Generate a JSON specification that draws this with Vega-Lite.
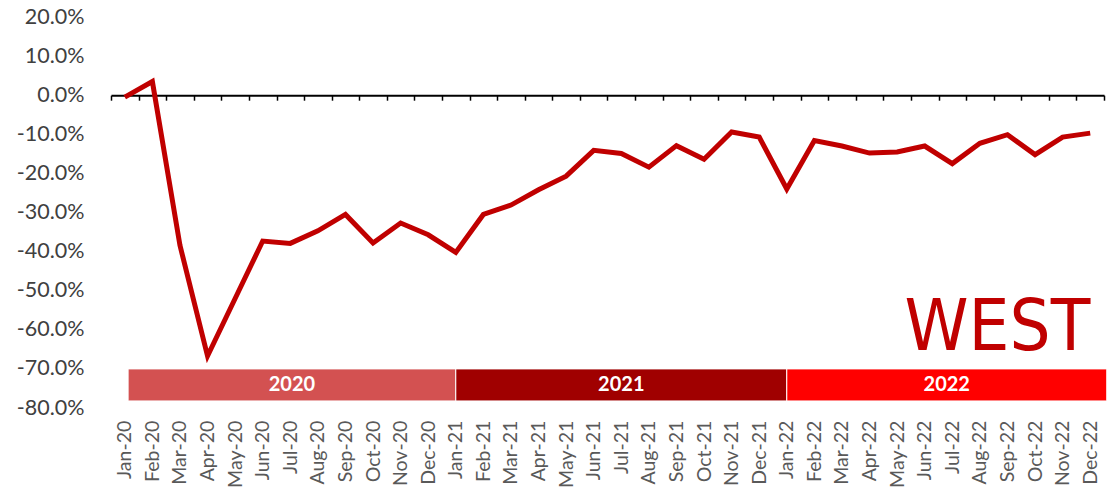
{
  "$schema": "https://vega.github.io/schema/vega-lite/v6.json",
  "width": 993,
  "height": 391,
  "autosize": "none",
  "padding": {"left": 111, "top": 17, "right": 3, "bottom": 80},
  "background": "white",
  "config": {
    "view": {"stroke": null},
    "font": "Lato",
    "axisY": {
      "grid": false, "domain": false, "ticks": false,
      "labelFontSize": 21.5, "labelColor": "#404040", "labelPadding": 27,
      "labelFont": "Lato", "title": null, "labelOverlap": false
    }
  },
  "datasets": {
    "series": [
      {"month": "Jan-20", "v": -0.005}, {"month": "Feb-20", "v": 0.035}, {"month": "Mar-20", "v": -0.384},
      {"month": "Apr-20", "v": -0.667}, {"month": "May-20", "v": -0.52}, {"month": "Jun-20", "v": -0.373},
      {"month": "Jul-20", "v": -0.379}, {"month": "Aug-20", "v": -0.347}, {"month": "Sep-20", "v": -0.305},
      {"month": "Oct-20", "v": -0.378}, {"month": "Nov-20", "v": -0.327}, {"month": "Dec-20", "v": -0.357},
      {"month": "Jan-21", "v": -0.402}, {"month": "Feb-21", "v": -0.305}, {"month": "Mar-21", "v": -0.281},
      {"month": "Apr-21", "v": -0.242}, {"month": "May-21", "v": -0.207}, {"month": "Jun-21", "v": -0.141},
      {"month": "Jul-21", "v": -0.149}, {"month": "Aug-21", "v": -0.184}, {"month": "Sep-21", "v": -0.129},
      {"month": "Oct-21", "v": -0.164}, {"month": "Nov-21", "v": -0.094}, {"month": "Dec-21", "v": -0.107},
      {"month": "Jan-22", "v": -0.240}, {"month": "Feb-22", "v": -0.116}, {"month": "Mar-22", "v": -0.130},
      {"month": "Apr-22", "v": -0.148}, {"month": "May-22", "v": -0.145}, {"month": "Jun-22", "v": -0.130},
      {"month": "Jul-22", "v": -0.175}, {"month": "Aug-22", "v": -0.123}, {"month": "Sep-22", "v": -0.101},
      {"month": "Oct-22", "v": -0.152}, {"month": "Nov-22", "v": -0.107}, {"month": "Dec-22", "v": -0.097}
    ],
    "years": [
      {"year": "2020", "start": 0.12, "end": 12, "mid": 6.06},
      {"year": "2021", "start": 12, "end": 24, "mid": 18},
      {"year": "2022", "start": 24, "end": 35.6, "mid": 29.8}
    ],
    "title": [{"label": "WEST", "i": 35, "v": -0.652}]
  },
  "resolve": {"scale": {"x": "independent"}},
  "layer": [
    {
      "data": {"name": "years"},
      "mark": {"type": "rect", "stroke": "white", "strokeWidth": 1},
      "encoding": {
        "x": {"field": "start", "type": "quantitative", "scale": {"domain": [-0.5, 35.5], "nice": false, "zero": false}, "axis": null},
        "x2": {"field": "end"},
        "y": {"datum": -0.7, "type": "quantitative", "scale": {"domain": [-0.8, 0.2], "nice": false},
              "axis": {"values": [-0.8, -0.7, -0.6, -0.5, -0.4, -0.3, -0.2, -0.1, 0, 0.1, 0.2], "format": ".1%", "labelOverlap": false, "labelExpr": "replace(datum.label, '\u2212', '-')"}},
        "y2": {"datum": -0.782},
        "color": {"field": "year", "type": "nominal", "scale": {"domain": ["2020", "2021", "2022"], "range": ["#D35151", "#A00000", "#FF0000"]}, "legend": null}
      }
    },
    {
      "data": {"name": "years"},
      "mark": {"type": "text", "color": "white", "fontWeight": "bold", "fontSize": 20, "font": "Lato", "baseline": "middle", "align": "center"},
      "encoding": {
        "x": {"field": "mid", "type": "quantitative", "scale": {"domain": [-0.5, 35.5], "nice": false, "zero": false}, "axis": null},
        "y": {"datum": -0.741, "type": "quantitative",
              "axis": {"values": [-0.8, -0.7, -0.6, -0.5, -0.4, -0.3, -0.2, -0.1, 0, 0.1, 0.2], "format": ".1%", "labelOverlap": false, "labelExpr": "replace(datum.label, '\u2212', '-')"}},
        "text": {"field": "year"}
      }
    },
    {
      "data": {"name": "title"},
      "mark": {"type": "text", "color": "#C00000", "fontSize": 72, "fontWeight": 300, "font": "'Liberation Sans Narrow', 'DejaVu Sans Condensed', Roboto, sans-serif", "baseline": "alphabetic", "align": "right"},
      "encoding": {
        "x": {"field": "i", "type": "quantitative", "scale": {"domain": [-0.5, 35.5], "nice": false, "zero": false}, "axis": null},
        "y": {"field": "v", "type": "quantitative",
              "axis": {"values": [-0.8, -0.7, -0.6, -0.5, -0.4, -0.3, -0.2, -0.1, 0, 0.1, 0.2], "format": ".1%", "labelOverlap": false, "labelExpr": "replace(datum.label, '\u2212', '-')"}},
        "text": {"field": "label"}
      }
    },
    {
      "data": {"name": "series"},
      "mark": {"type": "line", "color": "#C00000", "strokeWidth": 5, "strokeJoin": "miter"},
      "encoding": {
        "x": {
          "field": "month", "type": "ordinal", "sort": null,
          "scale": {"type": "band", "paddingInner": 0, "paddingOuter": 0},
          "axis": {
            "title": null, "labelAngle": -90, "labelFontSize": 19.5, "labelColor": "#595959", "labelFont": "Lato",
            "tickBand": "extent", "offset": -312.8, "labelPadding": 320,
            "domainColor": "black", "domainWidth": 2, "tickColor": "black", "tickWidth": 1.5, "tickSize": 5,
            "grid": false, "labelOverlap": false
          }
        },
        "y": {
          "field": "v", "type": "quantitative",
          "scale": {"domain": [-0.8, 0.2], "nice": false},
          "axis": {"values": [-0.8, -0.7, -0.6, -0.5, -0.4, -0.3, -0.2, -0.1, 0, 0.1, 0.2], "format": ".1%", "labelOverlap": false, "labelExpr": "replace(datum.label, '\u2212', '-')"}
        }
      }
    }
  ]
}
